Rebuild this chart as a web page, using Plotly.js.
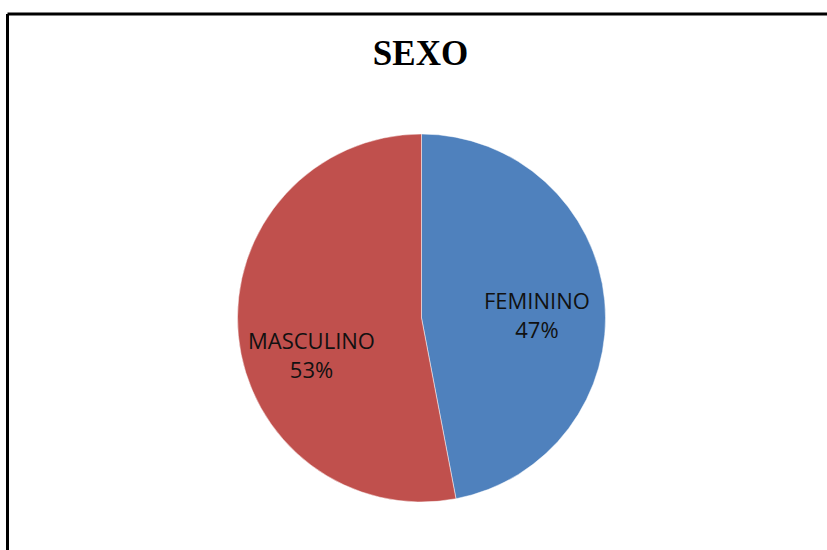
<!DOCTYPE html>
<html>
<head>
<meta charset="utf-8">
<script src="https://cdn.plot.ly/plotly-3.0.1.min.js"></script>
<style>
html,body{margin:0;padding:0;background:#fff;}
#chart{width:827px;height:550px;}
</style>
</head>
<body>
<div id="chart"></div>
<script>
var categories = ["FEMININO", "MASCULINO"];
var values = [47, 53];
var colors = ["#4F81BD", "#C0504D"];

var W = 827, H = 550;
var cx = 421.5, cy = 318, r = 184;

var total = values.reduce(function (a, b) { return a + b; }, 0);
var labelPos = [[537, 314], [311, 354]];

var trace = {
  type: "pie",
  labels: categories,
  values: values,
  sort: false,
  direction: "clockwise",
  rotation: 0,
  marker: {colors: colors, line: {color: "rgba(255,255,255,0.6)", width: 0.8}},
  textinfo: "none",
  hoverinfo: "label+percent",
  showlegend: false,
  domain: {x: [(cx - r) / W, (cx + r) / W], y: [1 - (cy + r) / H, 1 - (cy - r) / H]}
};

var annotations = categories.map(function (c, i) {
  return {
    xref: "paper", yref: "paper",
    x: labelPos[i][0] / W, y: 1 - labelPos[i][1] / H,
    xanchor: "center", yanchor: "middle",
    showarrow: false,
    text: c + "<br>" + Math.round(values[i] / total * 100) + "%",
    font: {family: "Open Sans, sans-serif", size: 22, color: "#111"}
  };
});

var layout = {
  width: W, height: H,
  margin: {l: 0, r: 0, t: 0, b: 0},
  paper_bgcolor: "#fff",
  title: {
    text: "<b>SEXO</b>",
    font: {family: "Liberation Serif, Times New Roman, serif", size: 35, color: "#000"},
    x: 420.5 / W, xanchor: "center",
    y: 1 - 53 / H, yanchor: "middle"
  },
  annotations: annotations,
  shapes: [
    {type: "line", xref: "paper", yref: "paper", x0: 7.5 / W, x1: 1, y0: 1 - 14 / H, y1: 1 - 14 / H, line: {color: "#000", width: 3}},
    {type: "line", xref: "paper", yref: "paper", x0: 7.5 / W, x1: 7.5 / W, y0: 1 - 14 / H, y1: 0, line: {color: "#000", width: 3}}
  ]
};

Plotly.newPlot("chart", [trace], layout, {displayModeBar: false, staticPlot: true});
</script>
</body>
</html>
